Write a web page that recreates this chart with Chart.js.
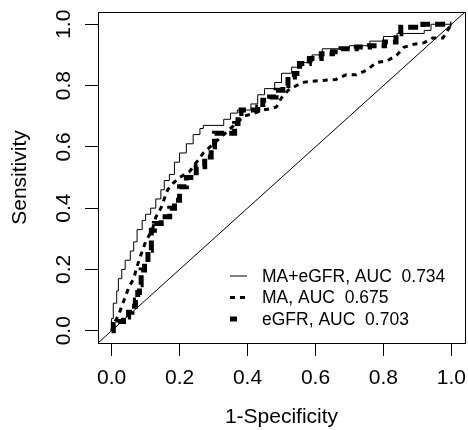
<!DOCTYPE html>
<html>
<head>
<meta charset="utf-8">
<title>ROC curves</title>
<script src="https://cdn.jsdelivr.net/npm/chart.js@4.4.1/dist/chart.umd.min.js"></script>
<style>
    html, body { margin: 0; padding: 0; background: #fff; }
    #wrap { width: 468px; height: 430px; }
</style>
</head>
<body>
<div id="wrap"><canvas id="rocChart" width="468" height="430"></canvas></div>
<script>
// --- DATA (1-specificity / sensitivity) ---
// MA+eGFR: top of each riser of the step curve
const comboFpr = [0, 0, 0.005, 0.015, 0.02, 0.03, 0.04, 0.055, 0.065, 0.075, 0.09, 0.10, 0.115, 0.13, 0.145, 0.155, 0.17, 0.185, 0.20, 0.22, 0.24, 0.26, 0.27, 0.33, 0.35, 0.37, 0.41, 0.43, 0.45, 0.48, 0.50, 0.53, 0.56, 0.59, 0.62, 0.70, 0.76, 0.80, 0.84, 0.92, 0.94, 1.0];
const comboTpr = [0, 0.04, 0.09, 0.13, 0.17, 0.20, 0.23, 0.26, 0.29, 0.33, 0.36, 0.38, 0.40, 0.43, 0.46, 0.49, 0.51, 0.55, 0.58, 0.61, 0.64, 0.66, 0.67, 0.69, 0.71, 0.72, 0.74, 0.77, 0.79, 0.81, 0.84, 0.86, 0.875, 0.90, 0.92, 0.93, 0.945, 0.96, 0.97, 0.98, 1.0, 1.0];

// MA: lots of ties, so plain polyline
const maFpr = [0, 0.01, 0.02, 0.03, 0.04, 0.05, 0.065, 0.075, 0.09, 0.10, 0.12, 0.13, 0.145, 0.155, 0.165, 0.18, 0.20, 0.23, 0.25, 0.27, 0.29, 0.31, 0.33, 0.36, 0.39, 0.42, 0.445, 0.47, 0.485, 0.50, 0.52, 0.56, 0.60, 0.66, 0.69, 0.72, 0.75, 0.78, 0.81, 0.84, 0.86, 0.89, 0.92, 0.945, 0.975, 1.0];
const maTpr = [0, 0.03, 0.05, 0.08, 0.11, 0.14, 0.17, 0.21, 0.26, 0.29, 0.33, 0.37, 0.40, 0.43, 0.46, 0.48, 0.50, 0.52, 0.55, 0.58, 0.60, 0.62, 0.64, 0.67, 0.70, 0.71, 0.72, 0.725, 0.73, 0.76, 0.785, 0.81, 0.815, 0.82, 0.835, 0.835, 0.85, 0.875, 0.88, 0.90, 0.925, 0.935, 0.94, 0.955, 0.955, 1.0];

// eGFR: top of each riser
const egfrFpr = [0, 0.005, 0.02, 0.035, 0.05, 0.06, 0.07, 0.077, 0.082, 0.087, 0.097, 0.107, 0.117, 0.126, 0.146, 0.171, 0.185, 0.20, 0.22, 0.249, 0.274, 0.293, 0.303, 0.362, 0.372, 0.381, 0.43, 0.445, 0.465, 0.484, 0.504, 0.519, 0.538, 0.553, 0.582, 0.617, 0.65, 0.675, 0.72, 0.759, 0.803, 0.837, 0.851, 0.916, 1.0];
const egfrTpr = [0, 0.02, 0.03, 0.045, 0.06, 0.08, 0.10, 0.125, 0.15, 0.198, 0.22, 0.263, 0.328, 0.35, 0.372, 0.40, 0.426, 0.47, 0.50, 0.535, 0.567, 0.60, 0.644, 0.676, 0.709, 0.72, 0.73, 0.752, 0.763, 0.785, 0.80, 0.828, 0.839, 0.872, 0.888, 0.904, 0.91, 0.92, 0.926, 0.93, 0.942, 0.969, 0.99, 1.0, 1.0];

const seriesLabels = ['MA+eGFR, AUC  0.734', 'MA, AUC  0.675', 'eGFR, AUC  0.703'];
const tickValues = [0, 0.2, 0.4, 0.6, 0.8, 1.0];
const axisRange = [-0.04, 1.04];   // R pads the range by 4% each side

// --- HELPERS ---
const toPoints = (xs, ys) => xs.map((x, i) => ({ x: x, y: ys[i] }));
const FONT = "'Liberation Sans', Arial, Helvetica, sans-serif";
const axisFont = { family: FONT, size: 21 };

// fixed axis sizes so the box sits where R put it; no extra label padding
const fixSize = (size) => (s) => {
    if (s.isHorizontal()) s.height = size; else s.width = size;
    s.paddingLeft = 0;
    s.paddingRight = 0;
    s.paddingTop = 0;
    s.paddingBottom = 0;
};

// frame-only axis (top / right edges of the box)
const frameAxis = (position, size) => ({
    type: 'linear',
    position: position,
    display: true,
    min: axisRange[0],
    max: axisRange[1],
    ticks: { display: false },
    grid: { drawOnChartArea: false, drawTicks: false },
    border: { display: true, color: '#000', width: 1 },
    afterFit: fixSize(size)
});

// legend drawn bottom-right inside the box, like R's legend()
const rocLegend = {
    id: 'rocLegend',
    afterDatasetsDraw(chart) {
        const { ctx, chartArea } = chart;
        const x0 = chartArea.left + 132;
        let y = chartArea.bottom - 67;
        ctx.save();
        ctx.font = '17.5px ' + FONT;
        ctx.textBaseline = 'middle';
        ctx.fillStyle = '#000';
        chart.data.datasets.slice(1).forEach((ds) => {
            ctx.beginPath();
            ctx.strokeStyle = ds.borderColor;
            ctx.lineWidth = ds.borderWidth;
            ctx.lineCap = ds.borderCapStyle || 'butt';
            ctx.setLineDash(ds.legendDash || ds.borderDash || []);
            ctx.moveTo(x0, y);
            ctx.lineTo(x0 + 17, y);
            ctx.stroke();
            ctx.setLineDash([]);
            ctx.fillText(ds.label, x0 + 32, y + 1);
            y += 21.5;
        });
        ctx.restore();
    }
};

const ctx = document.getElementById('rocChart');
new Chart(ctx, {
    type: 'scatter',
    data: {
        datasets: [
            {
                label: 'reference',
                data: toPoints(axisRange, axisRange),
                showLine: true,
                borderColor: '#000',
                borderWidth: 1
            },
            {
                label: seriesLabels[0],
                data: toPoints(comboFpr, comboTpr),
                showLine: true,
                stepped: 'before',
                borderColor: '#000',
                borderWidth: 1
            },
            {
                label: seriesLabels[1],
                data: toPoints(maFpr, maTpr),
                showLine: true,
                borderColor: '#000',
                borderWidth: 3,
                borderDash: [5, 5]
            },
            {
                label: seriesLabels[2],
                data: toPoints(egfrFpr, egfrTpr),
                showLine: true,
                stepped: 'before',
                borderColor: '#000',
                borderWidth: 5,
                borderDash: [10, 5],
                legendDash: [7, 20]
            }
        ]
    },
    options: {
        responsive: false,
        animation: false,
        layout: { padding: 0 },
        elements: { point: { radius: 0, hoverRadius: 0 }, line: { tension: 0 } },
        plugins: { legend: { display: false }, tooltip: { enabled: false } },
        scales: {
            x: {
                type: 'linear',
                position: 'bottom',
                min: axisRange[0],
                max: axisRange[1],
                afterBuildTicks: (s) => { s.ticks = tickValues.map((v) => ({ value: v })); },
                afterFit: fixSize(87),
                ticks: {
                    font: axisFont,
                    color: '#000',
                    padding: 10,
                    autoSkip: false,
                    maxRotation: 0,
                    callback: (v) => Number(v).toFixed(1)
                },
                grid: { drawOnChartArea: false, drawTicks: true, tickLength: 13, color: '#000' },
                border: { display: true, color: '#000', width: 1 },
                title: { display: true, text: '1-Specificity', font: axisFont, color: '#000', padding: { top: 0, bottom: 0 } }
            },
            y: {
                type: 'linear',
                position: 'left',
                min: axisRange[0],
                max: axisRange[1],
                afterBuildTicks: (s) => { s.ticks = tickValues.map((v) => ({ value: v })); },
                afterFit: fixSize(98),
                ticks: {
                    font: axisFont,
                    color: '#000',
                    padding: 6,
                    autoSkip: false,
                    minRotation: 90,
                    maxRotation: 90,
                    crossAlign: 'center',
                    callback: (v) => Number(v).toFixed(1)
                },
                grid: { drawOnChartArea: false, drawTicks: true, tickLength: 13, color: '#000' },
                border: { display: true, color: '#000', width: 1 },
                title: { display: true, text: 'Sensitivity', font: axisFont, color: '#000', padding: { top: 8, bottom: 0 } }
            },
            xTop: frameAxis('top', 12),
            yRight: frameAxis('right', 3)
        }
    },
    plugins: [rocLegend]
});
</script>
</body>
</html>
